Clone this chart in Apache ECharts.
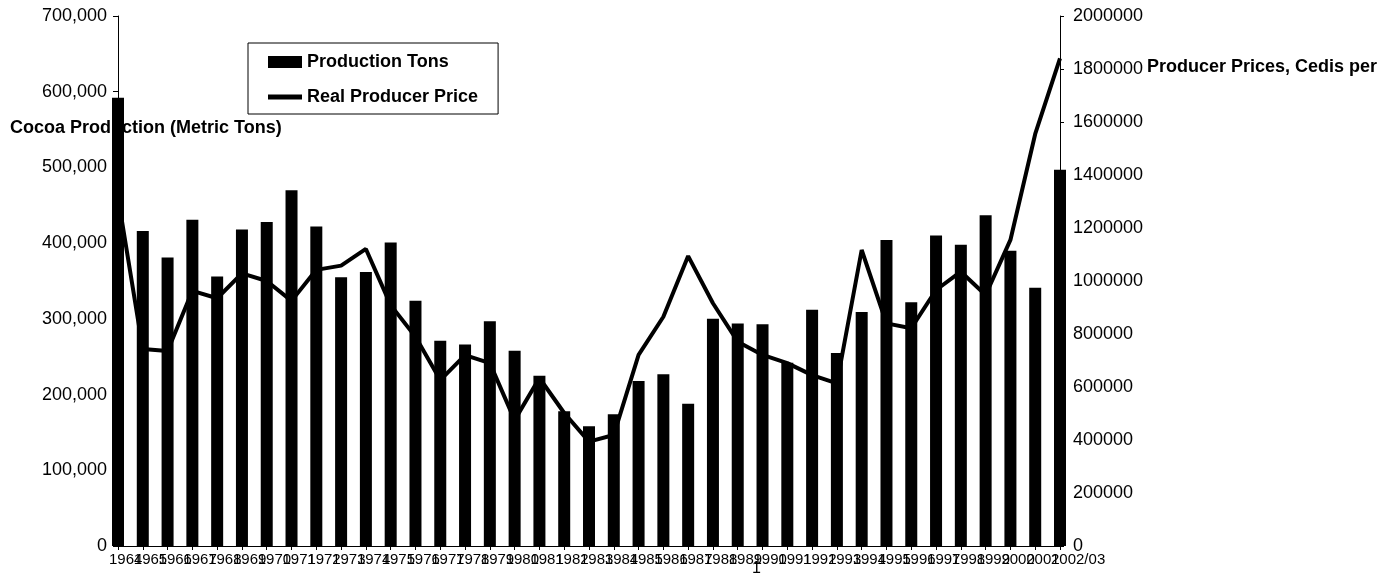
<!DOCTYPE html>
<html>
<head>
<meta charset="utf-8">
<script src="https://cdn.jsdelivr.net/npm/echarts@6/dist/echarts.min.js"></script>
<style>
  html, body { margin: 0; padding: 0; background: #fff; }
</style>
</head>
<body>
<div id="myChart" style="width: 1386px; height: 586px;"></div>
<script>
  // crop years, 1964 .. 2002/03
  const years = ['1964', '1965', '1966', '1967', '1968', '1969', '1970', '1971', '1972', '1973',
    '1974', '1975', '1976', '1977', '1978', '1979', '1980', '1981', '1982', '1983',
    '1984', '1985', '1986', '1987', '1988', '1989', '1990', '1991', '1992', '1993',
    '1994', '1995', '1996', '1997', '1998', '1999', '2000', '2001', '2002/03'];

  // cocoa production, metric tons (left axis)
  const productionTons = [592000, 416000, 381000, 431000, 356000, 418000, 428000, 470000, 422000, 355000,
    362000, 401000, 324000, 271000, 266000, 297000, 258000, 225000, 178000, 158000,
    174000, 218000, 227000, 188000, 300000, 294000, 293000, 242000, 312000, 255000,
    309000, 404000, 322000, 410000, 398000, 437000, 390000, 341000, 497000];

  // real producer price, cedis per ton (right axis)
  const realPrice = [1318000, 743000, 736000, 963000, 935000, 1029000, 1000000, 925000, 1042000, 1058000,
    1121000, 909000, 790000, 626000, 720000, 690000, 475000, 634000, 502000, 394000,
    419000, 721000, 865000, 1094000, 916000, 771000, 721000, 690000, 645000, 614000,
    1117000, 840000, 822000, 966000, 1035000, 947000, 1155000, 1555000, 1840000];

  const leftTicks = { min: 0, max: 700000, interval: 100000 };
  const rightTicks = { min: 0, max: 2000000, interval: 200000 };

  let myChart = echarts.init(document.getElementById('myChart'));

  const font = 'Liberation Sans, Arial, sans-serif';

  myChart.setOption({
    animation: false,
    backgroundColor: '#fff',
    textStyle: { fontFamily: font, color: '#000' },
    grid: { left: 118, right: 326, top: 16, bottom: 40 },
    legend: {
      orient: 'vertical',
      left: 248,
      top: 43,
      padding: [10, 20, 8, 20],
      itemGap: 17,
      itemWidth: 34,
      itemHeight: 12,
      borderColor: '#000',
      borderWidth: 1,
      textStyle: { fontFamily: font, fontSize: 18, fontWeight: 'bold', color: '#000' },
      data: [
        { name: 'Production Tons', icon: 'rect' },
        { name: 'Real Producer Price', icon: 'path://M0,0L34,0L34,5L0,5Z' }
      ]
    },
    graphic: [
      {
        type: 'text', left: 10, top: 119, z: 1,
        style: { text: 'Cocoa Production (Metric Tons)', fontFamily: font, fontSize: 18, fontWeight: 'bold', fill: '#000' }
      },
      {
        type: 'text', left: 1147, top: 58, z: 1,
        style: { text: 'Producer Prices, Cedis per', fontFamily: font, fontSize: 18, fontWeight: 'bold', fill: '#000' }
      },
      {
        type: 'text', left: 752, top: 561, z: 1,
        style: { text: '1', fontFamily: font, fontSize: 16, fill: '#000' }
      }
    ],
    xAxis: [
      {
        type: 'category',
        data: years,
        boundaryGap: false,
        axisLine: { show: true, lineStyle: { color: '#000', width: 1 } },
        axisTick: { show: true, length: 4, lineStyle: { color: '#000' } },
        axisLabel: {
          interval: 0,
          align: 'left',
          margin: 6,
          padding: [0, 0, 0, -9],
          fontFamily: font,
          fontSize: 15,
          color: '#000'
        },
        splitLine: { show: false }
      },
      {
        type: 'category',
        position: 'top',
        data: years,
        boundaryGap: false,
        axisLine: { show: true, lineStyle: { color: '#000', width: 1 } },
        axisTick: { show: false },
        axisLabel: { show: false },
        splitLine: { show: false }
      }
    ],
    yAxis: [
      {
        type: 'value',
        min: leftTicks.min,
        max: leftTicks.max,
        interval: leftTicks.interval,
        axisLine: { show: true, lineStyle: { color: '#000', width: 1 } },
        axisTick: { show: true, length: 5, lineStyle: { color: '#000' } },
        axisLabel: { margin: 11, fontFamily: font, fontSize: 18, color: '#000' },
        splitLine: { show: false }
      },
      {
        type: 'value',
        position: 'right',
        min: rightTicks.min,
        max: rightTicks.max,
        interval: rightTicks.interval,
        axisLine: { show: true, lineStyle: { color: '#000', width: 1 } },
        axisTick: { show: true, length: 4, lineStyle: { color: '#000' } },
        axisLabel: {
          margin: 13, fontFamily: font, fontSize: 18, color: '#000',
          formatter: v => String(v)
        },
        splitLine: { show: false }
      }
    ],
    series: [
      {
        name: 'Production Tons',
        type: 'bar',
        xAxisIndex: 0,
        yAxisIndex: 0,
        barWidth: 12,
        itemStyle: { color: '#000' },
        data: productionTons
      },
      {
        name: 'Real Producer Price',
        type: 'line',
        xAxisIndex: 0,
        yAxisIndex: 1,
        showSymbol: false,
        symbol: 'none',
        lineStyle: { color: '#000', width: 4 },
        itemStyle: { color: '#000' },
        data: realPrice
      }
    ]
  });
</script>
</body>
</html>
